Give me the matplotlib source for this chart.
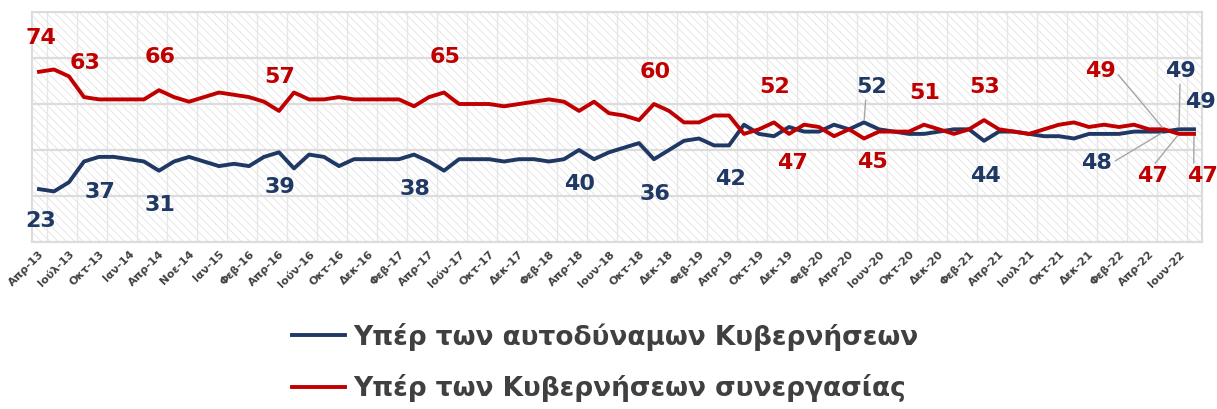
"""
Υπέρ αυτοδύναμων κυβερνήσεων vs κυβερνήσεων συνεργασίας, Απρ-13 έως Ιουν-22.
"""
import matplotlib.pyplot as plt
from matplotlib.patches import Rectangle

OUT_FILE = "out.png"

tick_labels = [
    "Απρ-13", "Ιούλ-13", "Οκτ-13", "Ιαν-14", "Απρ-14", "Νοε-14", "Ιαν-15",
    "Φεβ-16", "Απρ-16", "Ιούν-16", "Οκτ-16", "Δεκ-16", "Φεβ-17", "Απρ-17",
    "Ιούν-17", "Οκτ-17", "Δεκ-17", "Φεβ-18", "Απρ-18", "Ιουν-18", "Οκτ-18",
    "Δεκ-18", "Φεβ-19", "Απρ-19", "Οκτ-19", "Δεκ-19", "Φεβ-20", "Απρ-20",
    "Ιουν-20", "Οκτ-20", "Δεκ-20", "Φεβ-21", "Απρ-21", "Ιουλ-21", "Οκτ-21",
    "Δεκ-21", "Φεβ-22", "Απρ-22", "Ιουν-22",
]

# Υπέρ των αυτοδύναμων Κυβερνήσεων
single_party = [
    23, 22, 26, 35, 37, 37, 36, 35, 31, 35, 37, 35, 33, 34, 33, 37, 39, 32, 38, 37,
    33, 36, 36, 36, 36, 38, 35, 31, 36, 36, 36, 35, 36, 36, 35, 36, 40, 36, 39, 41,
    43, 36, 40, 44, 45, 42, 42, 51, 47, 46, 50, 48, 48, 51, 49, 52, 49, 48, 47, 47,
    48, 49, 49, 44, 48, 48, 47, 46, 46, 45, 47, 47, 47, 48, 48, 48, 49, 49,
]

# Υπέρ των Κυβερνήσεων συνεργασίας
coalition = [
    74, 75, 72, 63, 62, 62, 62, 62, 66, 63, 61, 63, 65, 64, 63, 61, 57, 65, 62, 62,
    63, 62, 62, 62, 62, 59, 63, 65, 60, 60, 60, 59, 60, 61, 62, 61, 57, 61, 56, 55,
    53, 60, 57, 52, 52, 55, 55, 47, 49, 52, 47, 51, 50, 46, 49, 45, 48, 48, 48, 51,
    49, 47, 49, 53, 49, 48, 47, 49, 51, 52, 50, 51, 50, 51, 49, 49, 47, 47,
]

# which points carry a value label, with label offset in pixels (dx, dy)
blue_labels = [(0, 2, -32), (4, 1, -35), (8, 1, -34), (16, 1, -35), (25, 1, -34),
               (36, 1, -34), (41, 1, -35), (46, 1, -34), (55, 8, 35), (63, 1, -35),
               (75, -67, -31), (76, 1, 58), (77, 6, 27)]
red_labels = [(0, 2, 34), (3, 1, 34), (8, 1, 33), (16, 1, 34), (27, 1, 35),
              (41, 1, 32), (49, 1, 35), (50, 4, -29), (55, 8, -24), (59, 1, 32),
              (63, 1, 33), (75, -64, 58), (76, -26, -42), (77, 9, -42)]
# labels with a grey leader line: index -> relpos on the text box
blue_leaders = {55: (0.3, 0.0), 75: (1.0, 0.5), 76: (0.5, 0.0)}
red_leaders = {75: (1.0, 0.5), 76: (0.5, 1.0), 77: (0.2, 1.0)}

BLUE = "#1F3864"
RED = "#C00000"
GRID = "#dcdcdc"

plt.rcParams["font.family"] = ["DejaVu Sans"]
plt.rcParams["hatch.linewidth"] = 0.6

fig = plt.figure(figsize=(12.17, 4.09), dpi=100)
ax = fig.add_axes([31.5 / 1217, 1 - 242 / 409, 1170 / 1217, 230 / 409])

x = list(range(len(coalition)))
ax.set_xlim(-0.5, len(x) - 0.5)
ax.set_ylim(0, 100)

# patterned background like the Excel fill
ax.add_patch(Rectangle((0, 0), 1, 1, transform=ax.transAxes, facecolor="white",
                       edgecolor="#e3e3e3", hatch="\\\\\\\\", lw=0, zorder=0))

ax.set_yticks(range(0, 101, 20))
ax.yaxis.grid(True, color=GRID, lw=1.6, zorder=1)
ax.set_xticks([i + 0.5 for i in range(0, len(x), 2)], minor=True)
ax.xaxis.grid(True, which="minor", color="#e6e6e6", lw=1.0, zorder=1)
ax.set_axisbelow(True)
ax.tick_params(axis="y", left=False, labelleft=False)
ax.tick_params(axis="x", which="both", length=0)
for sp in ax.spines.values():
    sp.set_color(GRID)
    sp.set_linewidth(1.5)

ax.set_xticks(range(0, len(x), 2))
ax.set_xticklabels(tick_labels, rotation=45, ha="right", rotation_mode="anchor",
                   fontsize=8, fontweight="bold", color="#404040")
ax.tick_params(axis="x", pad=5)

ln_blue, = ax.plot(x, single_party, color=BLUE, lw=2.8, zorder=3,
                   solid_joinstyle="round")
ln_red, = ax.plot(x, coalition, color=RED, lw=2.8, zorder=3,
                  solid_joinstyle="round")


def put_labels(series, labels, leaders, color):
    for i, dx, dy in labels:
        kw = {}
        if i in leaders:
            kw["arrowprops"] = dict(arrowstyle="-", color="#a6a6a6", lw=1.0,
                                    relpos=leaders[i], shrinkA=0, shrinkB=2)
        ax.annotate(f"{series[i]}", xy=(i, series[i]), xytext=(dx, dy),
                    textcoords="offset pixels", ha="center", va="center",
                    fontsize=16, fontweight="bold", color=color, zorder=4, **kw)


put_labels(single_party, blue_labels, blue_leaders, BLUE)
put_labels(coalition, red_labels, red_leaders, RED)

fig.legend([ln_blue, ln_red],
           ["Υπέρ των αυτοδύναμων Κυβερνήσεων", "Υπέρ των Κυβερνήσεων συνεργασίας"],
           loc="center", bbox_to_anchor=(0.4975, 1 - 362.5 / 409), frameon=False,
           handlelength=2.0, handletextpad=0.3, labelspacing=0.9,
           prop={"size": 19, "weight": "bold"}, labelcolor="#404040")

fig.savefig(OUT_FILE, dpi=100, facecolor="white")
